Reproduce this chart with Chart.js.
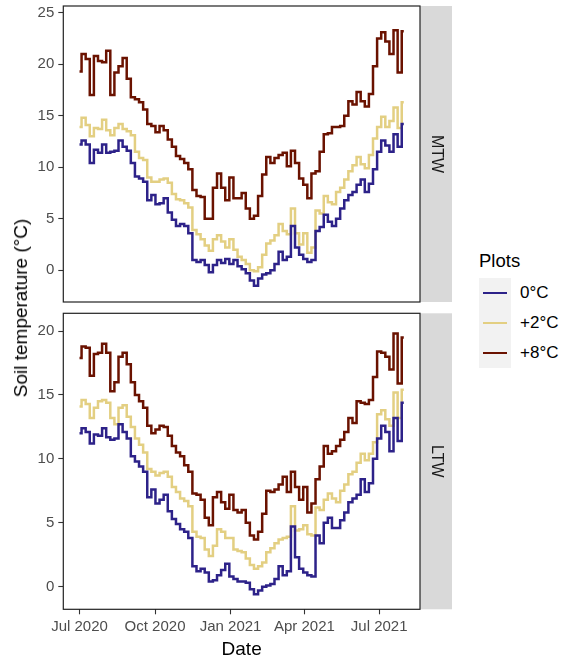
<!DOCTYPE html>
<html>
<head>
<meta charset="utf-8">
<script src="https://cdn.jsdelivr.net/npm/chart.js@4.4.1/dist/chart.umd.min.js"></script>
<style>
  body { margin: 0; background: #fff; font-family: "Liberation Sans", Arial, sans-serif; }
  #wrap { position: relative; width: 564px; height: 659px; overflow: hidden; }
  canvas { position: absolute; left: 0; }
  #mtw { top: 0; }
  #ltw { top: 307px; }
  .ytitle { position: absolute; left: 21px; top: 308px; transform: translate(-50%, -50%) rotate(-90deg);
            font-size: 19px; color: #000; white-space: nowrap; }
  .legtitle { position: absolute; left: 479px; top: 261px; transform: translateY(-50%); font-size: 18.5px; color: #000; }
  .legbox { position: absolute; left: 479px; top: 278px; width: 32px; height: 90px; background: #f2f2f2; }
  .key { position: absolute; left: 483px; width: 24px; height: 2.5px; }
  .leglab { position: absolute; left: 520px; transform: translateY(-50%); font-size: 17px; color: #000; white-space: nowrap; }
</style>
</head>
<body>
<div id="wrap">
  <canvas id="mtw" width="452" height="305"></canvas>
  <canvas id="ltw" width="452" height="352"></canvas>
  <div class="ytitle">Soil temperature (°C)</div>
  <div class="legtitle">Plots</div>
  <div class="legbox"></div>
  <div id="legend"></div>
</div>
<script>
// days since 1 Jul 2020, one reading every 5 days
const days = [];
for (let d = 0; d <= 395; d += 5) days.push(d);

const dateTickDays = [0, 92, 184, 274, 365];
const dateTickLabels = ['Jul 2020', 'Oct 2020', 'Jan 2021', 'Apr 2021', 'Jul 2021'];

const plotLabels = ['0°C', '+2°C', '+8°C'];
const plotColors = ['#2d2289', '#e3cf82', '#6a1200'];

const mtwTicks = [0, 5, 10, 15, 20, 25];
const ltwTicks = [0, 5, 10, 15, 20];

// MTW
const mtw0 = [12.2, 12.6, 12.2, 10.4, 11.7, 11.4, 12.2, 11.4, 11.5, 11.6,
              12.6, 12.0, 11.6, 10.4, 9.1, 8.9, 8.6, 6.8, 7.3, 6.4,
              6.5, 7.0, 5.6, 4.9, 4.3, 4.5, 4.3, 3.6, 1.0, 0.8,
              1.0, 0.5, -0.2, 0.5, 1.0, 0.7, 1.1, 0.6, 1.0, 0.4,
              0.1, -0.3, -1.0, -1.5, -0.8, -0.4, -0.3, 0.0, 0.6, 1.8,
              1.0, 1.3, 4.3, 2.2, 1.5, 1.1, 0.8, 1.0, 3.8, 4.2,
              5.4, 4.7, 4.3, 5.0, 6.0, 6.8, 7.3, 7.6, 8.3, 8.8,
              7.6, 8.4, 9.8, 11.5, 12.6, 12.1, 11.5, 13.2, 12.0, 14.2];
const mtw2 = [13.9, 14.8, 14.1, 13.0, 13.8, 13.7, 14.6, 13.6, 13.1, 13.8,
              14.2, 13.7, 13.5, 13.1, 11.5, 10.9, 10.7, 9.0, 8.6, 8.6,
              8.8, 8.9, 8.5, 7.4, 6.9, 6.8, 6.5, 6.1, 3.9, 3.5,
              3.0, 2.4, 1.9, 3.0, 3.4, 2.8, 2.2, 3.0, 2.0, 1.3,
              1.0, 0.6, 0.0, -0.1, 0.3, 1.5, 2.6, 2.9, 3.4, 4.5,
              3.8, 3.5, 6.0, 3.6, 2.5, 3.6, 1.7, 2.2, 5.8, 5.5,
              7.2, 6.6, 6.4, 7.6, 8.0, 8.8, 9.6, 10.2, 11.0, 10.3,
              9.9, 11.2, 12.8, 13.9, 14.9, 13.9, 14.5, 15.8, 13.8, 16.3];
const mtw8 = [19.3, 21.0, 20.5, 17.0, 20.8, 20.3, 20.2, 21.3, 17.0, 19.2,
              19.8, 20.6, 18.6, 16.8, 16.6, 16.3, 15.6, 14.2, 14.0, 13.4,
              14.0, 13.6, 12.7, 12.0, 11.1, 10.8, 10.4, 9.8, 7.8, 7.2,
              7.1, 5.0, 5.0, 8.0, 9.4, 8.0, 6.8, 9.0, 7.0, 7.0,
              7.5, 6.0, 5.0, 5.3, 7.2, 9.3, 11.0, 10.4, 10.9, 11.2,
              11.4, 10.1, 11.6, 10.4, 8.9, 8.3, 7.0, 9.4, 9.6, 11.5,
              13.2, 13.3, 13.9, 13.9, 14.0, 15.0, 16.4, 16.1, 17.3, 16.4,
              15.9, 17.1, 19.8, 22.5, 23.1, 22.2, 21.0, 23.3, 19.2, 23.2];

// LTW
const ltw0 = [12.0, 12.4, 12.1, 11.2, 11.9, 11.8, 12.4, 11.7, 11.5, 11.6,
              12.7, 12.1, 11.6, 10.2, 9.8, 9.4, 9.0, 7.0, 7.6, 6.5,
              6.8, 7.2, 5.9, 5.3, 4.9, 4.5, 4.3, 3.8, 1.6, 1.2,
              1.4, 1.1, 0.4, 0.5, 0.9, 1.3, 1.8, 0.8, 0.6, 0.4,
              0.4, 0.3, -0.2, -0.6, -0.3, 0.0, 0.1, 0.2, 0.6, 1.6,
              0.9, 1.2, 4.7, 2.3, 1.4, 1.1, 0.9, 0.8, 4.0, 3.4,
              5.0, 5.4, 4.6, 4.6, 5.2, 5.8, 6.6, 6.9, 7.2, 8.4,
              7.4, 8.1, 10.0, 11.6, 12.6, 12.1, 10.6, 13.2, 11.4, 14.4];
const ltw2 = [14.1, 14.6, 14.3, 13.2, 14.0, 14.5, 14.6, 14.4, 13.2, 12.7,
              14.0, 14.2, 13.3, 12.5, 11.6, 11.1, 10.5, 9.2, 9.0, 8.7,
              8.9, 9.0, 8.6, 7.8, 7.4, 6.9, 6.7, 6.3, 4.3, 3.9,
              3.8, 2.9, 2.4, 3.2, 4.5, 4.3, 3.8, 3.8, 2.9, 2.8,
              2.7, 2.2, 1.7, 1.4, 1.6, 1.9, 2.7, 3.0, 3.4, 3.7,
              3.8, 3.9, 6.3, 4.4, 4.5, 4.8, 4.1, 4.0, 6.2, 6.0,
              6.8, 7.3, 6.9, 6.6, 7.5, 8.0, 8.8, 9.0, 9.7, 10.4,
              9.9, 10.4, 11.3, 13.5, 13.8, 13.1, 12.6, 15.2, 13.2, 15.4];
const ltw8 = [17.9, 18.8, 18.7, 16.5, 18.2, 18.3, 19.0, 18.3, 15.3, 16.0,
              18.0, 18.3, 17.4, 16.0, 15.0, 14.5, 14.0, 12.6, 12.0, 12.3,
              12.6, 12.5, 11.8, 11.0, 10.5, 10.2, 9.5, 9.0, 7.3, 7.2,
              6.8, 5.4, 4.8, 7.0, 7.4, 6.6, 6.1, 7.2, 6.0, 5.8,
              6.0, 5.0, 4.0, 3.7, 4.3, 5.7, 7.5, 7.4, 7.6, 8.0,
              8.6, 7.4, 9.0, 7.8, 6.8, 7.8, 5.8, 6.5, 8.4, 9.4,
              11.0, 10.4, 10.6, 11.0, 11.5, 12.1, 13.2, 12.8, 14.5, 14.4,
              14.3, 14.6, 16.4, 18.4, 18.3, 18.0, 17.0, 19.8, 15.9, 19.5];

const FONT = '"Liberation Sans", Arial, sans-serif';

// grey facet strip on the right plus the panel border
const facetFrame = {
  id: 'facetFrame',
  afterDraw(chart, args, opts) {
    const { ctx, chartArea: a } = chart;
    ctx.save();
    ctx.fillStyle = '#d9d9d9';
    ctx.fillRect(a.right, a.top, opts.width, a.bottom - a.top);
    ctx.strokeStyle = '#222';
    ctx.lineWidth = 1.2;
    ctx.strokeRect(a.left, a.top, a.right - a.left, a.bottom - a.top);
    ctx.translate(a.right + opts.width / 2, (a.top + a.bottom) / 2);
    ctx.rotate(Math.PI / 2);
    ctx.fillStyle = '#1a1a1a';
    ctx.font = '16px ' + FONT;
    ctx.textAlign = 'center';
    ctx.textBaseline = 'middle';
    ctx.fillText(opts.label, 0, 0);
    ctx.restore();
  }
};

function makeDatasets(series) {
  return series.map((vals, i) => ({
    label: plotLabels[i],
    data: vals.map((v, j) => ({ x: days[j], y: v })),
    borderColor: plotColors[i],
    borderWidth: 2.5,
    pointRadius: 0,
    stepped: 'middle',
    fill: false
  }));
}

function panel(id, series, yMin, yMax, yTicks, strip, padTop, padBottom, showDates) {
  new Chart(document.getElementById(id).getContext('2d'), {
    type: 'line',
    data: { datasets: makeDatasets(series) },
    options: {
      responsive: false,
      animation: false,
      events: [],
      layout: { padding: { top: padTop, right: 32, bottom: padBottom, left: 0 } },
      plugins: {
        legend: { display: false },
        tooltip: { enabled: false },
        facetFrame: { label: strip, width: 32 }
      },
      scales: {
        x: {
          type: 'linear',
          min: -19.75,
          max: 414.75,
          display: showDates,
          afterBuildTicks: s => { s.ticks = dateTickDays.map(v => ({ value: v })); },
          afterFit: s => {
            if (!showDates) return;
            s.height = 49.7;
            s.paddingLeft = 0;
            s.paddingRight = 0;
          },
          grid: { drawOnChartArea: false, drawTicks: true, tickLength: 5, color: '#333', tickWidth: 1.1 },
          border: { display: false },
          ticks: {
            color: '#4d4d4d',
            font: { family: FONT, size: 15 },
            padding: 4,
            maxRotation: 0,
            autoSkip: false,
            callback: (v, i) => dateTickLabels[i]
          },
          title: {
            display: true,
            text: 'Date',
            color: '#000',
            font: { family: FONT, size: 19, lineHeight: 1 },
            padding: { top: 0, bottom: 0 }
          }
        },
        y: {
          min: yMin,
          max: yMax,
          afterBuildTicks: s => { s.ticks = yTicks.map(v => ({ value: v })); },
          afterFit: s => { s.width = 63.3; s.paddingTop = 0; s.paddingBottom = 0; },
          grid: { drawOnChartArea: false, drawTicks: true, tickLength: 5, color: '#333', tickWidth: 1.1 },
          border: { display: false },
          ticks: {
            color: '#4d4d4d',
            font: { family: FONT, size: 15 },
            padding: 4,
            callback: v => String(v)
          }
        }
      }
    },
    plugins: [facetFrame]
  });
}

panel('mtw', [mtw0, mtw2, mtw8], -3.08, 25.65, mtwTicks, 'MTW', 6, 3, false);
panel('ltw', [ltw0, ltw2, ltw8], -1.77, 21.39, ltwTicks, 'LTW', 6.3, 0, true);

// legend keys
const keyY = [292.8, 323, 353.2];
const legend = document.getElementById('legend');
plotLabels.forEach((lab, i) => {
  const k = document.createElement('div');
  k.className = 'key';
  k.style.top = (keyY[i] - 1.25) + 'px';
  k.style.background = plotColors[i];
  legend.appendChild(k);
  const t = document.createElement('div');
  t.className = 'leglab';
  t.style.top = keyY[i] + 'px';
  t.textContent = lab;
  legend.appendChild(t);
});
</script>
</body>
</html>
